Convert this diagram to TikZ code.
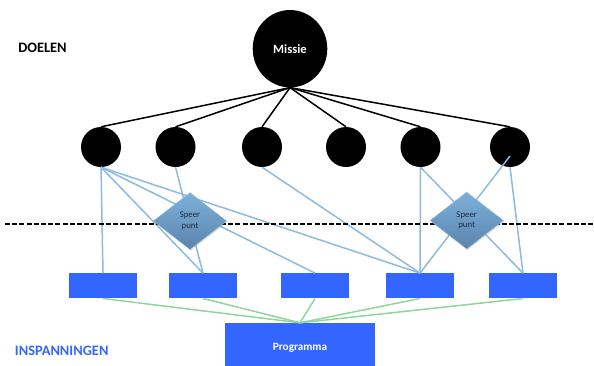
\documentclass[tikz,border=0pt]{standalone}
\usepackage{fontspec}
\setmainfont{Carlito}
\usetikzlibrary{shapes.geometric,shadows}
\definecolor{rectblue}{HTML}{3366FF}
\definecolor{linkblue}{HTML}{8DBAE0}
\definecolor{linkgreen}{HTML}{92D59A}
\definecolor{dtop}{HTML}{7DB1DA}
\definecolor{dbot}{HTML}{5A84AC}
\definecolor{dtext}{HTML}{1E2D40}
\tikzset{
  goal/.style={circle, fill=black, minimum size=40pt, inner sep=0pt},
  missie/.style={ellipse, fill=black, minimum width=74.6pt, minimum height=77.4pt, inner sep=0pt,
     text=white, font=\fontsize{12.6}{14}\selectfont\bfseries},
  inzet/.style={rectangle, fill=rectblue, minimum width=68pt, minimum height=25pt, inner sep=0pt},
  prog/.style={rectangle, fill=rectblue, minimum width=150pt, minimum height=50pt, inner sep=0pt,
     text=white, font=\fontsize{11.2}{13}\selectfont\bfseries},
  speer/.style={diamond, top color=dtop, bottom color=dbot, draw=dtop!80!white, line width=0.3pt,
     minimum width=73.4pt, minimum height=57pt, inner sep=0pt, align=center, text=dtext,
     font=\fontsize{8.8}{10.5}\selectfont,
     drop shadow={opacity=0.25, shadow xshift=0.8pt, shadow yshift=-1.2pt}},
  tree/.style={draw=black, line width=1.5pt},
  bluelink/.style={draw=linkblue, line width=1.5pt},
  greenlink/.style={draw=linkgreen, line width=1.5pt},
  divider/.style={draw=black, line width=2pt, dash pattern=on 5pt off 2.2pt},
  label/.style={font=\fontsize{14.4}{17}\selectfont\bfseries, inner sep=0pt}
}
\begin{document}
\begin{tikzpicture}[x=1pt, y=-1pt]
\useasboundingbox (0,0) rectangle (594,365);
% nodes
\node[missie] (m) at (290,48.7) {Missie};
\node[goal] (c1) at (101,147) {};
\node[goal] (c2) at (175.5,147) {};
\node[goal] (c3) at (262,147) {};
\node[goal] (c4) at (346,147) {};
\node[goal] (c5) at (420.5,147) {};
\node[goal] (c6) at (510,147) {};
\coordinate (c6in) at (510,156);
\node[inzet] (r1) at (103,285.8) {};
\node[inzet] (r2) at (203,285.8) {};
\node[inzet] (r3) at (315,285.8) {};
\node[inzet] (r4) at (420,285.8) {};
\node[inzet] (r5) at (523,285.8) {};
\node[prog] (p) at (300,348) {Programma};
\node[label, text=black] (doel) at (42.5,48) {DOELEN};
\node[label, text=rectblue] (insp) at (61.7,350.5) {INSPANNINGEN};
% tree lines
\foreach \c in {c1,c2,c3,c4,c5,c6} \draw[tree] (m.south) -- (\c.north);
% blue links
\draw[bluelink] (c1.south) -- (r1.north);
\draw[bluelink] (c1.south) -- (r2.north);
\draw[bluelink] (c1.south) -- (r3.north);
\draw[bluelink] (c1.south) -- (r4.north);
\draw[bluelink] (c2.south) -- (r2.north);
\draw[bluelink] (c3.south) -- (r4.north);
\draw[bluelink] (c5.south) -- (r4.north);
\draw[bluelink] (c5.south) -- (r5.north);
\draw[bluelink] (c6in) -- (r4.north);
\draw[bluelink] (c6.south) -- (r5.north);
% green links
\foreach \r in {r1,r2,r3,r4,r5} \draw[greenlink] (\r.south) -- (p.north);
% divider
\coordinate (dl) at (5,224.3);
\coordinate (dr) at (594,224.3);
\draw[divider] (dl) -- (dr);
% focal points
\node[speer] (s1) at (190,221) {Speer\\punt};
\node[speer] (s2) at (466.7,220.5) {Speer\\punt};
\end{tikzpicture}
\end{document}
